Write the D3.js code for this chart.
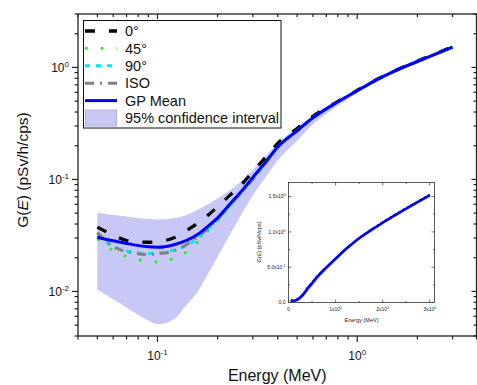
<!DOCTYPE html>
<html>
<head>
<meta charset="utf-8">
<script src="https://cdn.jsdelivr.net/npm/d3@7"></script>
<style>
  body { margin: 0; background: #fff; }
  svg { display: block; font-family: "Liberation Sans", Arial, sans-serif; }
</style>
</head>
<body>
<div class="chart"></div>
<script>
var energies = [0.05, 0.06, 0.07, 0.08, 0.09, 0.1, 0.12, 0.14, 0.16, 0.18, 0.2, 0.23, 0.26, 0.3, 0.35, 0.4, 0.5, 0.6, 0.8, 1.0, 1.25, 1.5, 2.0, 2.5, 3.0];

var g0   = [0.0375, 0.0318, 0.0285, 0.0276, 0.0275, 0.0278, 0.0300, 0.0350, 0.0410, 0.0484, 0.0570, 0.0720, 0.0880, 0.117, 0.160, 0.210, 0.285, 0.366, 0.498, 0.625, 0.78, 0.915, 1.14, 1.34, 1.53];
var g45  = [0.0295, 0.0233, 0.0205, 0.0192, 0.0185, 0.0183, 0.0197, 0.0225, 0.0280, 0.0350, 0.0425, 0.0580, 0.0750, 0.100, 0.142, 0.193, 0.272, 0.355, 0.493, 0.620, 0.775, 0.910, 1.13, 1.33, 1.52];
var g90  = [0.0315, 0.0255, 0.0229, 0.0220, 0.0218, 0.0220, 0.0233, 0.0258, 0.0300, 0.0365, 0.0440, 0.0580, 0.0750, 0.101, 0.143, 0.194, 0.272, 0.355, 0.493, 0.620, 0.775, 0.910, 1.13, 1.33, 1.52];
var gIso = [0.0335, 0.0252, 0.0226, 0.0217, 0.0214, 0.0217, 0.0230, 0.0262, 0.0310, 0.0370, 0.0445, 0.0590, 0.0755, 0.101, 0.143, 0.194, 0.272, 0.355, 0.493, 0.620, 0.775, 0.910, 1.13, 1.33, 1.52];
var gpMean = [0.0305, 0.0283, 0.0268, 0.0257, 0.0250, 0.0248, 0.0260, 0.0285, 0.0325, 0.0385, 0.0454, 0.0600, 0.0763, 0.104, 0.145, 0.195, 0.272, 0.355, 0.493, 0.620, 0.775, 0.910, 1.13, 1.33, 1.52];
var ciUpper = [0.0505, 0.0482, 0.0466, 0.0452, 0.0443, 0.0438, 0.0450, 0.0482, 0.0540, 0.0605, 0.0675, 0.0800, 0.0950, 0.122, 0.163, 0.212, 0.290, 0.372, 0.508, 0.635, 0.79, 0.925, 1.145, 1.345, 1.535];
var ciLower = [0.0104, 0.0085, 0.0072, 0.0062, 0.0055, 0.0051, 0.0056, 0.0076, 0.0101, 0.0146, 0.0204, 0.0321, 0.0470, 0.072, 0.106, 0.148, 0.222, 0.310, 0.455, 0.590, 0.752, 0.890, 1.115, 1.315, 1.505];

var legendLabels = ["0\u00b0", "45\u00b0", "90\u00b0", "ISO", "GP Mean", "95% confidence interval"];

// tick values
var xMajor = [0.1, 1];
var xMinor = [0.04, 0.05, 0.06, 0.07, 0.08, 0.09, 0.2, 0.3, 0.4, 0.5, 0.6, 0.7, 0.8, 0.9, 2, 3, 4];
var yMajor = [0.01, 0.1, 1];
var yMinor = [0.004, 0.005, 0.006, 0.007, 0.008, 0.009, 0.02, 0.03, 0.04, 0.05, 0.06, 0.07, 0.08, 0.09, 0.2, 0.3, 0.4, 0.5, 0.6, 0.7, 0.8, 0.9, 2, 3];
var insetXTicks = [0, 1, 2, 3];
var insetXMinor = [0.5, 1.5, 2.5];
var insetYTicks = [0, 0.5, 1.0, 1.5];
var insetYMinor = [0.25, 0.75, 1.25];
var insetYLabels = [["0.0", null], ["5.0x10", "-1"], ["1.0x10", "0"], ["1.5x10", "0"]];

var W = 477, H = 385;
// plot box ("top" is taken by window.top, so prefix these)
var pLeft = 78, pRight = 476.5, pTop = 14, pBottom = 336;

var svg = d3.select('.chart').append('svg')
    .attr('width', W)
    .attr('height', H);

var x = d3.scaleLog().domain([0.04, 4]).range([pLeft, 477.5]);
var y = d3.scaleLog().domain([0.004, 3]).range([pBottom, pTop]);

function pts(vals) {
    return energies.map(function (e, i) { return { e: e, v: vals[i] }; });
}

var styles = [
    { vals: g0,   color: '#000000', width: 3.3, dash: '10,14' },
    { vals: g45,  color: '#22ee22', width: 2.7, dash: '2.7,13' },
    { vals: g90,  color: '#00e5ff', width: 3,   dash: '5,6' },
    { vals: gIso, color: '#808080', width: 3,   dash: '9,6,2,6' },
    { vals: gpMean, color: '#0000ff', width: 3, dash: null }
];
var bandFill = '#c8c8f6';

// confidence band
var area = d3.area()
    .x(function (d) { return x(d.e); })
    .y0(function (d, i) { return y(ciLower[i]); })
    .y1(function (d, i) { return y(ciUpper[i]); })
    .curve(d3.curveMonotoneX);

svg.append('path')
    .datum(pts(gpMean))
    .attr('d', area)
    .attr('fill', bandFill);

var line = d3.line()
    .x(function (d) { return x(d.e); })
    .y(function (d) { return y(d.v); })
    .curve(d3.curveMonotoneX);

styles.forEach(function (s) {
    svg.append('path')
        .datum(pts(s.vals))
        .attr('d', line)
        .attr('fill', 'none')
        .attr('stroke', s.color)
        .attr('stroke-width', s.width)
        .attr('stroke-dasharray', s.dash);
});

// frame + ticks
var axisColor = '#222';
svg.append('rect')
    .attr('x', pLeft).attr('y', pTop)
    .attr('width', pRight - pLeft).attr('height', pBottom - pTop)
    .attr('fill', 'none').attr('stroke', axisColor).attr('stroke-width', 1.3);

function vtick(xv, y1, y2) {
    svg.append('line').attr('x1', xv).attr('x2', xv).attr('y1', y1).attr('y2', y2)
        .attr('stroke', axisColor).attr('stroke-width', 1.2);
}
function htick(yv, x1, x2) {
    svg.append('line').attr('x1', x1).attr('x2', x2).attr('y1', yv).attr('y2', yv)
        .attr('stroke', axisColor).attr('stroke-width', 1.2);
}

xMajor.forEach(function (v) {
    vtick(x(v), pBottom, pBottom + 6);
    vtick(x(v), pTop, pTop + 5);
});
xMinor.forEach(function (v) {
    var px = Math.min(x(v), pRight);
    vtick(px, pBottom, pBottom + 3.5);
    vtick(px, pTop, pTop + 3);
});
yMajor.forEach(function (v) {
    htick(y(v), pLeft, pLeft - 6);
    htick(y(v), pRight, pRight - 5);
});
yMinor.forEach(function (v) {
    htick(y(v), pLeft, pLeft - 3.5);
    htick(y(v), pRight, pRight - 3);
});

function powerLabel(sel, base, exp, baseSize, supSize, shift) {
    sel.append('tspan').text(base).attr('font-size', baseSize);
    if (exp !== null) {
        sel.append('tspan').text(exp).attr('font-size', supSize).attr('dy', -shift);
    }
}

xMajor.forEach(function (v) {
    var t = svg.append('text')
        .attr('x', x(v)).attr('y', 360)
        .attr('text-anchor', 'middle')
        .attr('fill', '#111');
    powerLabel(t, '10', String(Math.round(Math.log10(v))), 12, 8, 5);
});
yMajor.forEach(function (v) {
    var t = svg.append('text')
        .attr('x', 69).attr('y', y(v) + 4.3)
        .attr('text-anchor', 'end')
        .attr('fill', '#111');
    powerLabel(t, '10', String(Math.round(Math.log10(v))), 12, 8, 5);
});

svg.append('text')
    .attr('x', (pLeft + pRight) / 2).attr('y', 381)
    .attr('text-anchor', 'middle')
    .attr('font-size', 16).attr('fill', '#111')
    .text('Energy (MeV)');

var ylab = svg.append('text')
    .attr('transform', 'translate(28,170) rotate(-90)')
    .attr('text-anchor', 'middle')
    .attr('font-size', 15.5).attr('fill', '#111');
ylab.append('tspan').text('G(');
ylab.append('tspan').text('E').attr('font-style', 'italic');
ylab.append('tspan').text(') (pSv/h/cps)');

// legend
var leg = svg.append('g');
leg.append('rect')
    .attr('x', 83.5).attr('y', 20.5).attr('width', 197.5).attr('height', 107.5)
    .attr('fill', '#fff').attr('stroke', '#111').attr('stroke-width', 1);

var rowY = [31, 48.4, 65.8, 83.2, 100.6, 118];
styles.forEach(function (s, i) {
    leg.append('line')
        .attr('x1', 85).attr('x2', 117)
        .attr('y1', rowY[i]).attr('y2', rowY[i])
        .attr('stroke', s.color).attr('stroke-width', s.width)
        .attr('stroke-dasharray', s.dash);
});
leg.append('rect')
    .attr('x', 85.5).attr('y', 110).attr('width', 31).attr('height', 16)
    .attr('fill', bandFill).attr('stroke', '#b0b0e0').attr('stroke-width', 1);

legendLabels.forEach(function (lab, i) {
    leg.append('text')
        .attr('x', 125).attr('y', rowY[i] + 5.2)
        .attr('font-size', 14.5).attr('fill', '#111')
        .text(lab);
});

// inset: same curves on linear axes
var ix = d3.scaleLinear().domain([0, 3.1]).range([288.5, 434.5]);
var iy = d3.scaleLinear().domain([0, 1.7]).range([302.5, 182.5]);
var ins = svg.append('g');

var iline = d3.line()
    .x(function (d) { return ix(d.e); })
    .y(function (d) { return iy(d.v); })
    .curve(d3.curveMonotoneX);

ins.append('path')
    .datum(pts(ciUpper).concat(pts(ciLower).reverse()))
    .attr('d', d3.line().x(function (d) { return ix(d.e); }).y(function (d) { return iy(d.v); }))
    .attr('fill', bandFill);

styles.forEach(function (s) {
    var last = s.dash === null;
    ins.append('path')
        .datum(pts(s.vals))
        .attr('d', iline)
        .attr('fill', 'none')
        .attr('stroke', s.color)
        .attr('stroke-width', last ? 2.6 : 1.6)
        .attr('stroke-dasharray', last ? null : '3,2');
});

ins.append('rect')
    .attr('x', 288.5).attr('y', 182.5).attr('width', 146).attr('height', 120)
    .attr('fill', 'none').attr('stroke', '#333').attr('stroke-width', 0.8);

function itick(x1, y1, x2, y2) {
    ins.append('line').attr('x1', x1).attr('y1', y1).attr('x2', x2).attr('y2', y2)
        .attr('stroke', '#333').attr('stroke-width', 0.7);
}
insetXTicks.forEach(function (v) {
    itick(ix(v), 302.5, ix(v), 299.5);
    itick(ix(v), 182.5, ix(v), 185.5);
});
insetXMinor.forEach(function (v) {
    itick(ix(v), 302.5, ix(v), 301);
    itick(ix(v), 182.5, ix(v), 184);
});
insetYTicks.forEach(function (v) {
    itick(288.5, iy(v), 291.5, iy(v));
    itick(434.5, iy(v), 431.5, iy(v));
});
insetYMinor.forEach(function (v) {
    itick(288.5, iy(v), 290, iy(v));
    itick(434.5, iy(v), 433, iy(v));
});

insetXTicks.forEach(function (v) {
    var t = ins.append('text')
        .attr('x', ix(v)).attr('y', 310.5)
        .attr('text-anchor', 'middle').attr('fill', '#222');
    if (v === 0) {
        t.attr('font-size', 5).text('0');
    } else {
        powerLabel(t, v + 'x10', '0', 5, 3.5, 2);
    }
});
insetYTicks.forEach(function (v, i) {
    var t = ins.append('text')
        .attr('x', 285.5).attr('y', iy(v) + 1.8)
        .attr('text-anchor', 'end').attr('fill', '#222');
    powerLabel(t, insetYLabels[i][0], insetYLabels[i][1], 5, 3.5, 2);
});

ins.append('text')
    .attr('x', 361.5).attr('y', 321.5)
    .attr('text-anchor', 'middle')
    .attr('font-size', 5.5).attr('fill', '#222')
    .text('Energy (MeV)');

var iylab = ins.append('text')
    .attr('transform', 'translate(261,242) rotate(-90)')
    .attr('text-anchor', 'middle')
    .attr('font-size', 5.5).attr('fill', '#222');
iylab.append('tspan').text('G(');
iylab.append('tspan').text('E').attr('font-style', 'italic');
iylab.append('tspan').text(') (pSv/h/cps)');
</script>
</body>
</html>
